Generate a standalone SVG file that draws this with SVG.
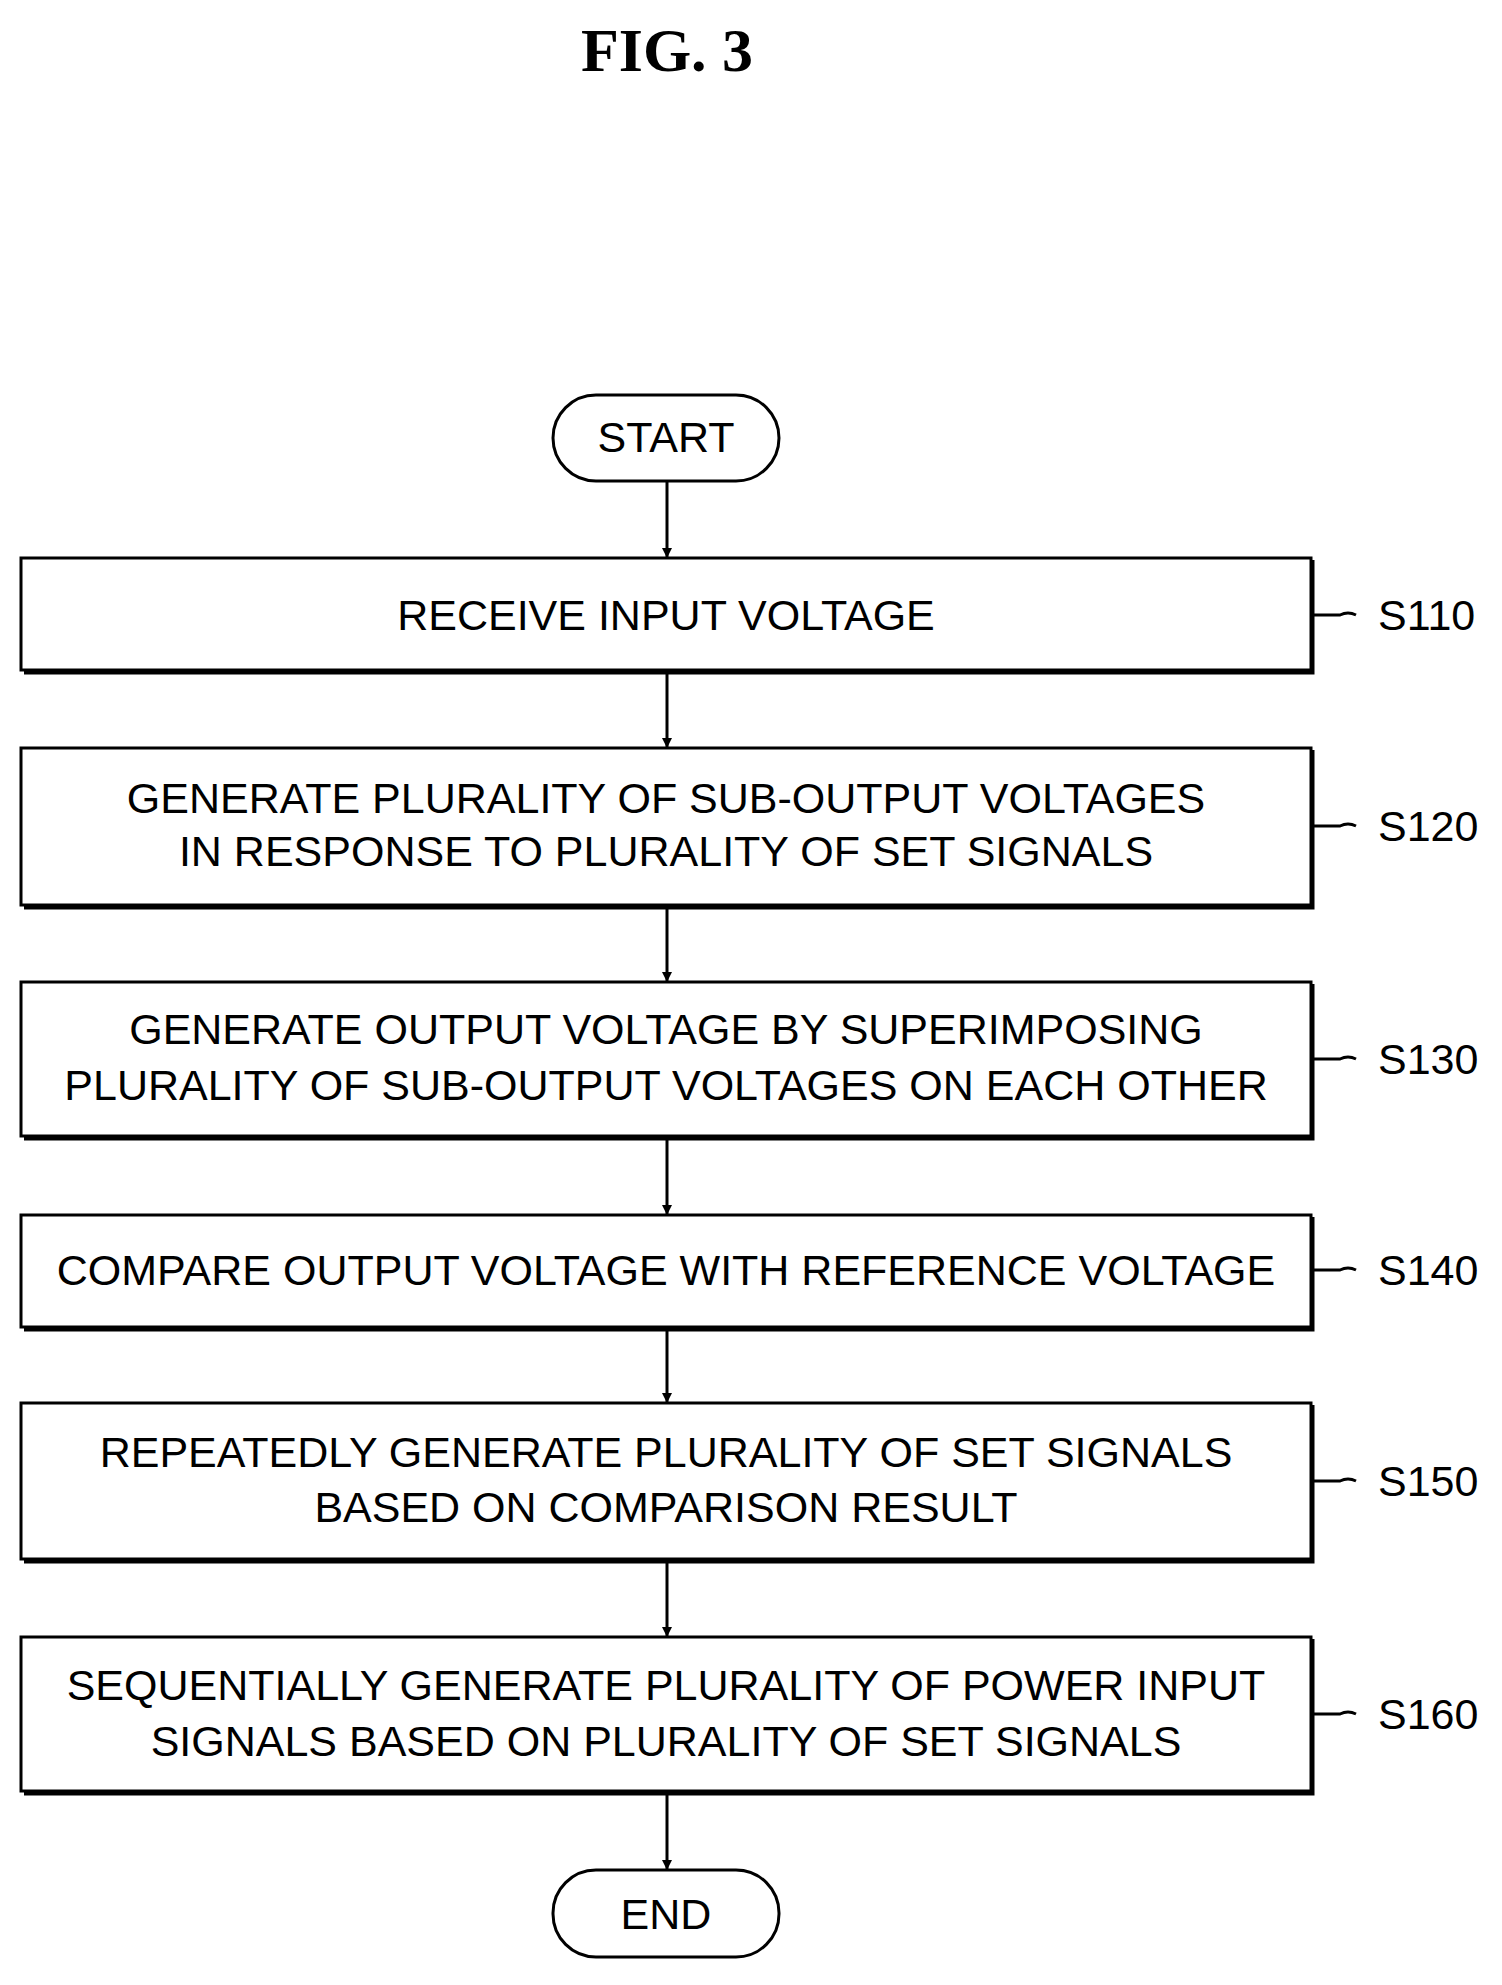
<svg xmlns="http://www.w3.org/2000/svg" width="1502" height="1985" viewBox="0 0 1502 1985">
<style>
.b{fill:#fff;stroke:#000;stroke-width:3}
.s{fill:none;stroke:#000;stroke-width:5}
.t{font-family:"Liberation Sans",Arial,sans-serif;font-size:43px;text-anchor:middle;dominant-baseline:central}
.l{font-family:"Liberation Sans",Arial,sans-serif;font-size:43px;dominant-baseline:central}
.c{stroke:#000;stroke-width:3;fill:none}
</style>
<defs><marker id="a" markerWidth="10" markerHeight="10" refX="9" refY="5" orient="auto" markerUnits="userSpaceOnUse" viewBox="0 0 10 10"><path d="M0,0L10,5L0,10z"/></marker></defs>
<rect width="1502" height="1985" fill="#fff"/>
<text x="667" y="50" font-family="Liberation Serif,serif" font-weight="bold" font-size="62" text-anchor="middle" dominant-baseline="central">FIG.  3</text>
<g id="connectors">
<line class="c" x1="667" y1="481" x2="667" y2="557" marker-end="url(#a)"/>
<line class="c" x1="667" y1="674" x2="667" y2="747" marker-end="url(#a)"/>
<line class="c" x1="667" y1="909" x2="667" y2="981" marker-end="url(#a)"/>
<line class="c" x1="667" y1="1140" x2="667" y2="1214" marker-end="url(#a)"/>
<line class="c" x1="667" y1="1331" x2="667" y2="1402" marker-end="url(#a)"/>
<line class="c" x1="667" y1="1563" x2="667" y2="1636" marker-end="url(#a)"/>
<line class="c" x1="667" y1="1795" x2="667" y2="1869" marker-end="url(#a)"/>
</g>
<g id="start"><rect x="553" y="395" width="226" height="86" rx="43" class="b" stroke-width="3"/><text class="t" x="666" y="437">START</text></g>
<g id="s110"><path class="s" d="M24,672H1312V560"/><rect class="b" x="21" y="558" width="1290" height="112"/><text class="t" x="666" y="615">RECEIVE INPUT VOLTAGE</text><path class="c" d="M1312,615H1340q8,-4 16,0"/><text class="l" x="1378" y="615">S110</text></g>
<g id="s120"><path class="s" d="M24,907H1312V750"/><rect class="b" x="21" y="748" width="1290" height="157"/><text class="t" x="666" y="798">GENERATE PLURALITY OF SUB-OUTPUT VOLTAGES</text><text class="t" x="666" y="851">IN RESPONSE TO PLURALITY OF SET SIGNALS</text><path class="c" d="M1312,826H1340q8,-4 16,0"/><text class="l" x="1378" y="826">S120</text></g>
<g id="s130"><path class="s" d="M24,1138H1312V984"/><rect class="b" x="21" y="982" width="1290" height="154"/><text class="t" x="666" y="1029">GENERATE OUTPUT VOLTAGE BY SUPERIMPOSING</text><text class="t" x="666" y="1085">PLURALITY OF SUB-OUTPUT VOLTAGES ON EACH OTHER</text><path class="c" d="M1312,1059H1340q8,-4 16,0"/><text class="l" x="1378" y="1059">S130</text></g>
<g id="s140"><path class="s" d="M24,1329H1312V1217"/><rect class="b" x="21" y="1215" width="1290" height="112"/><text class="t" x="666" y="1270">COMPARE OUTPUT VOLTAGE WITH REFERENCE VOLTAGE</text><path class="c" d="M1312,1270H1340q8,-4 16,0"/><text class="l" x="1378" y="1270">S140</text></g>
<g id="s150"><path class="s" d="M24,1561H1312V1405"/><rect class="b" x="21" y="1403" width="1290" height="156"/><text class="t" x="666" y="1452">REPEATEDLY GENERATE PLURALITY OF SET SIGNALS</text><text class="t" x="666" y="1507">BASED ON COMPARISON RESULT</text><path class="c" d="M1312,1481H1340q8,-4 16,0"/><text class="l" x="1378" y="1481">S150</text></g>
<g id="s160"><path class="s" d="M24,1793H1312V1639"/><rect class="b" x="21" y="1637" width="1290" height="154"/><text class="t" x="666" y="1685">SEQUENTIALLY GENERATE PLURALITY OF POWER INPUT</text><text class="t" x="666" y="1741">SIGNALS BASED ON PLURALITY OF SET SIGNALS</text><path class="c" d="M1312,1714H1340q8,-4 16,0"/><text class="l" x="1378" y="1714">S160</text></g>
<g id="end"><rect x="553" y="1870" width="226" height="87" rx="43" class="b"/><text class="t" x="666" y="1914">END</text></g>
</svg>
